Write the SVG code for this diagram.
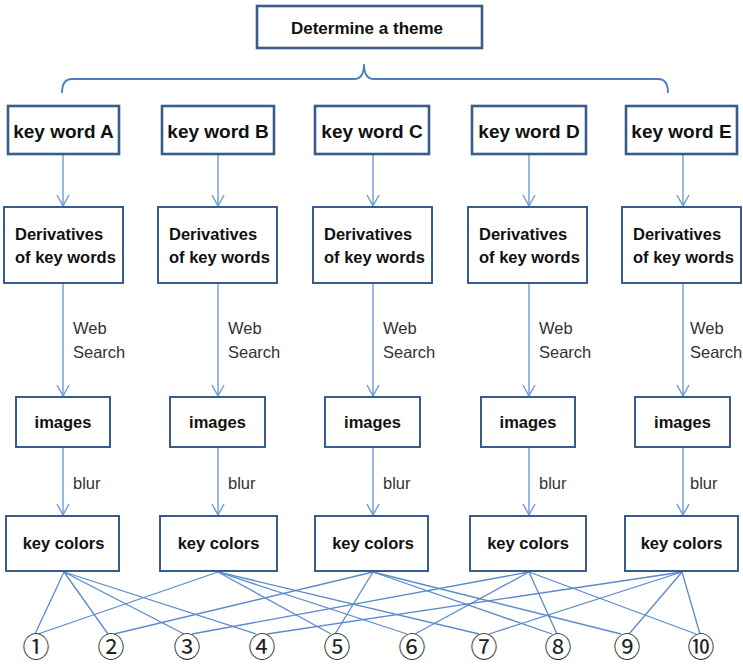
<svg xmlns="http://www.w3.org/2000/svg" width="743" height="664" viewBox="0 0 743 664">
  <defs>
    <marker id="arrow" markerUnits="userSpaceOnUse" markerWidth="14" markerHeight="14" viewBox="0 0 14 14" refX="12" refY="7" orient="auto">
      <path d="M1,1 L12,7 L1,13" fill="none" stroke="#6E9BD6" stroke-width="1.4"/>
    </marker>
  </defs>
  <style>
    rect.kw { fill: #ffffff; stroke: #385D8A; stroke-width: 2.6; }
    rect.bx { fill: #ffffff; stroke: #385D8A; stroke-width: 2; }
    text { font-family: "Liberation Sans", Arial, sans-serif; fill: #111111; }
    text.b { font-weight: bold; }
    text.kwt { font-size: 19px; font-weight: bold; text-anchor: middle; }
    text.t16 { font-size: 16.5px; font-weight: bold; }
    text.mid { text-anchor: middle; }
    text.lab { font-size: 16.5px; fill: #333333; }
    text.num { font-family: "Noto Sans CJK SC", "DejaVu Sans", sans-serif; font-size: 27px; text-anchor: middle; fill: #222222; }
    line.arr { stroke: #6E9BD6; stroke-width: 1.4; marker-end: url(#arrow); }
    line.link { stroke: #5B8ACB; stroke-width: 1.3; }
    path.brace { fill: none; stroke: #4A7EBB; stroke-width: 1.8; }
  </style>

  <!-- theme -->
  <g id="theme">
    <rect class="kw" x="257" y="6" width="225" height="42"/>
    <text class="b" x="367" y="34" font-size="17" text-anchor="middle">Determine a theme</text>
  </g>

  <!-- connectors -->
  <g id="connectors">
    <path class="brace" d="M62,93 Q62,79 72,79 L354,79 Q364,79 364,64 Q364,79 374,79 L658,79 Q668,79 668,93"/>

    <!-- key word -> derivatives -->
    <line class="arr" x1="63" y1="155" x2="63" y2="206"/>
    <line class="arr" x1="218" y1="155" x2="218" y2="206"/>
    <line class="arr" x1="373" y1="155" x2="373" y2="206"/>
    <line class="arr" x1="529" y1="155" x2="529" y2="206"/>
    <line class="arr" x1="683" y1="155" x2="683" y2="206"/>
    <!-- derivatives -> images -->
    <line class="arr" x1="63" y1="284" x2="63" y2="396"/>
    <line class="arr" x1="218" y1="284" x2="218" y2="396"/>
    <line class="arr" x1="373" y1="284" x2="373" y2="396"/>
    <line class="arr" x1="529" y1="284" x2="529" y2="396"/>
    <line class="arr" x1="683" y1="284" x2="683" y2="396"/>
    <!-- images -> key colors -->
    <line class="arr" x1="63" y1="448" x2="63" y2="515"/>
    <line class="arr" x1="218" y1="448" x2="218" y2="515"/>
    <line class="arr" x1="373" y1="448" x2="373" y2="515"/>
    <line class="arr" x1="529" y1="448" x2="529" y2="515"/>
    <line class="arr" x1="683" y1="448" x2="683" y2="515"/>

    <!-- key colors -> numbered colours: each number joins one pair of columns -->
    <line class="link" x1="64" y1="572" x2="35" y2="634"/>
    <line class="link" x1="64" y1="572" x2="108" y2="634"/>
    <line class="link" x1="64" y1="572" x2="184" y2="634"/>
    <line class="link" x1="64" y1="572" x2="256" y2="634"/>

    <line class="link" x1="218" y1="572" x2="38" y2="634"/>
    <line class="link" x1="218" y1="572" x2="331" y2="634"/>
    <line class="link" x1="218" y1="572" x2="407" y2="634"/>
    <line class="link" x1="218" y1="572" x2="479" y2="634"/>

    <line class="link" x1="373" y1="572" x2="114" y2="634"/>
    <line class="link" x1="373" y1="572" x2="335" y2="634"/>
    <line class="link" x1="373" y1="572" x2="552" y2="634"/>
    <line class="link" x1="373" y1="572" x2="621" y2="634"/>

    <line class="link" x1="529" y1="572" x2="192" y2="634"/>
    <line class="link" x1="529" y1="572" x2="415" y2="634"/>
    <line class="link" x1="529" y1="572" x2="557" y2="634"/>
    <line class="link" x1="529" y1="572" x2="696" y2="634"/>

    <line class="link" x1="682" y1="572" x2="267" y2="634"/>
    <line class="link" x1="682" y1="572" x2="489" y2="634"/>
    <line class="link" x1="682" y1="572" x2="629" y2="634"/>
    <line class="link" x1="682" y1="572" x2="700" y2="634"/>
  </g>

  <!-- column A -->
  <g id="kw-a"><rect class="kw" x="8" y="106" width="111" height="48"/><text class="kwt" x="63.5" y="138">key word A</text></g>
  <g id="der-a"><rect class="bx" x="4" y="207" width="119" height="76"/><text class="t16" x="15" y="240">Derivatives</text><text class="t16" x="15" y="263">of key words</text></g>
  <g id="lab-a"><text class="lab" x="73" y="334">Web</text><text class="lab" x="73" y="358">Search</text><text class="lab" x="73" y="489">blur</text></g>
  <g id="img-a"><rect class="bx" x="16" y="397" width="94" height="50"/><text class="t16 mid" x="63" y="428">images</text></g>
  <g id="kc-a"><rect class="bx" x="6" y="516" width="113" height="55"/><text class="t16 mid" x="63.5" y="549">key colors</text></g>

  <!-- column B -->
  <g id="kw-b"><rect class="kw" x="162" y="106" width="112" height="48"/><text class="kwt" x="218" y="138">key word B</text></g>
  <g id="der-b"><rect class="bx" x="158" y="207" width="119" height="76"/><text class="t16" x="169" y="240">Derivatives</text><text class="t16" x="169" y="263">of key words</text></g>
  <g id="lab-b"><text class="lab" x="228" y="334">Web</text><text class="lab" x="228" y="358">Search</text><text class="lab" x="228" y="489">blur</text></g>
  <g id="img-b"><rect class="bx" x="170" y="397" width="95" height="50"/><text class="t16 mid" x="217.5" y="428">images</text></g>
  <g id="kc-b"><rect class="bx" x="160" y="516" width="117" height="55"/><text class="t16 mid" x="218.5" y="549">key colors</text></g>

  <!-- column C -->
  <g id="kw-c"><rect class="kw" x="315" y="106" width="114" height="48"/><text class="kwt" x="372" y="138">key word C</text></g>
  <g id="der-c"><rect class="bx" x="313" y="207" width="119" height="76"/><text class="t16" x="324" y="240">Derivatives</text><text class="t16" x="324" y="263">of key words</text></g>
  <g id="lab-c"><text class="lab" x="383" y="334">Web</text><text class="lab" x="383" y="358">Search</text><text class="lab" x="383" y="489">blur</text></g>
  <g id="img-c"><rect class="bx" x="325" y="397" width="95" height="50"/><text class="t16 mid" x="372.5" y="428">images</text></g>
  <g id="kc-c"><rect class="bx" x="315" y="516" width="113" height="55"/><text class="t16 mid" x="373" y="549">key colors</text></g>

  <!-- column D -->
  <g id="kw-d"><rect class="kw" x="472" y="106" width="114" height="48"/><text class="kwt" x="529" y="138">key word D</text></g>
  <g id="der-d"><rect class="bx" x="468" y="207" width="119" height="76"/><text class="t16" x="479" y="240">Derivatives</text><text class="t16" x="479" y="263">of key words</text></g>
  <g id="lab-d"><text class="lab" x="539" y="334">Web</text><text class="lab" x="539" y="358">Search</text><text class="lab" x="539" y="489">blur</text></g>
  <g id="img-d"><rect class="bx" x="481" y="397" width="94" height="50"/><text class="t16 mid" x="528" y="428">images</text></g>
  <g id="kc-d"><rect class="bx" x="470" y="516" width="116" height="55"/><text class="t16 mid" x="528" y="549">key colors</text></g>

  <!-- column E -->
  <g id="kw-e"><rect class="kw" x="626" y="106" width="111" height="48"/><text class="kwt" x="681.5" y="138">key word E</text></g>
  <g id="der-e"><rect class="bx" x="622" y="207" width="119" height="76"/><text class="t16" x="633" y="240">Derivatives</text><text class="t16" x="633" y="263">of key words</text></g>
  <g id="lab-e"><text class="lab" x="690" y="334">Web</text><text class="lab" x="690" y="358">Search</text><text class="lab" x="690" y="489">blur</text></g>
  <g id="img-e"><rect class="bx" x="635" y="397" width="95" height="50"/><text class="t16 mid" x="682.5" y="428">images</text></g>
  <g id="kc-e"><rect class="bx" x="625" y="516" width="113" height="55"/><text class="t16 mid" x="681.5" y="549">key colors</text></g>

  <!-- numbered colours -->
  <g id="n1"><text class="num" x="36" y="657">①</text></g>
  <g id="n2"><text class="num" x="111" y="657">②</text></g>
  <g id="n3"><text class="num" x="187" y="657">③</text></g>
  <g id="n4"><text class="num" x="262" y="657">④</text></g>
  <g id="n5"><text class="num" x="337" y="657">⑤</text></g>
  <g id="n6"><text class="num" x="412" y="657">⑥</text></g>
  <g id="n7"><text class="num" x="484" y="657">⑦</text></g>
  <g id="n8"><text class="num" x="558" y="657">⑧</text></g>
  <g id="n9"><text class="num" x="627" y="657">⑨</text></g>
  <g id="n10"><text class="num" x="701" y="657">⑩</text></g>
</svg>
